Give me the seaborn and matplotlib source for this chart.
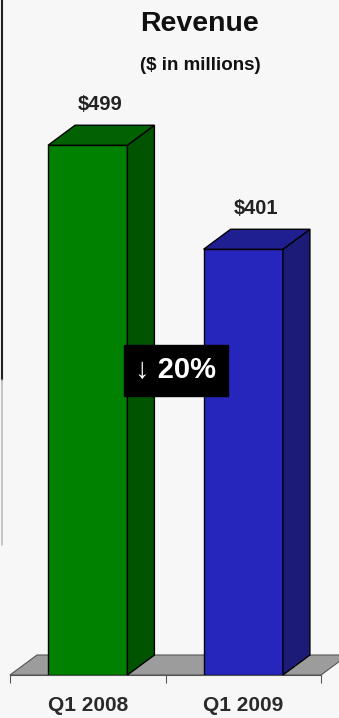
import numpy as np
import pandas as pd
import seaborn as sns
import matplotlib.pyplot as plt
from matplotlib.patches import Polygon
from matplotlib.lines import Line2D

# data
quarters = ["Q1 2008", "Q1 2009"]
revenue = [499, 401]
value_labels = ["$499", "$401"]
change_label = "\u2193 20%"

front_colors = ["#008200", "#2626bc"]
side_colors = ["#005400", "#1c1c78"]
top_colors = ["#006200", "#1f1f92"]

sns.set_style("white")
plt.rcParams['font.family'] = ['Liberation Sans', 'DejaVu Sans']

W, H = 339, 718
fig = plt.figure(figsize=(W / 100, H / 100), dpi=100, facecolor="#f7f7f7")
ax = fig.add_axes([10 / W, 43 / H, 311 / W, 637 / H])
ax.set_facecolor("none")

df = pd.DataFrame({"quarter": quarters, "revenue": revenue})
sns.barplot(data=df, x="quarter", y="revenue", hue="quarter", palette=front_colors,
            legend=False, width=0.51, edgecolor="black", linewidth=1, saturation=1,
            ax=ax, zorder=3)

ax.set_xlim(-0.5, 1.5)
ax.set_ylim(0, 600)

# depth of the 3d look, in pixels -> data units
ppx = (311 / 2)
ppy = 637 / 600
dx = 27 / ppx
dy = 20 / ppy
hw = 0.51 / 2

# floor
floor = Polygon([(-0.5, 0), (1.5, 0), (1.5 + dx, dy), (-0.5 + dx, dy)], closed=True,
                facecolor="#9c9c9c", edgecolor="#555555", linewidth=0.8, clip_on=False, zorder=1)
ax.add_patch(floor)

for i, v in enumerate(revenue):
    side = Polygon([(i + hw, 0), (i + hw + dx, dy), (i + hw + dx, v + dy), (i + hw, v)],
                   closed=True, facecolor=side_colors[i], edgecolor="black", linewidth=1,
                   clip_on=False, zorder=4)
    top = Polygon([(i - hw, v), (i + hw, v), (i + hw + dx, v + dy), (i - hw + dx, v + dy)],
                  closed=True, facecolor=top_colors[i], edgecolor="black", linewidth=1,
                  clip_on=False, zorder=4)
    ax.add_patch(side)
    ax.add_patch(top)
    ax.text(i + 0.08, v + 38, value_labels[i], ha="center", va="center",
            fontsize=14.5, fontweight="bold", color="#222222")

# change box
ax.text(0.566, 287, change_label, ha="center", va="center", fontsize=21, fontweight="bold",
        color="white", zorder=6,
        bbox=dict(boxstyle="square,pad=0.4", facecolor="black", edgecolor="black"))

# axes styling
sns.despine(ax=ax, left=True, top=True, right=True)
ax.spines["bottom"].set_color("#555555")
ax.spines["bottom"].set_linewidth(0.8)
ax.set_yticks([])
ax.set_xlabel("")
ax.set_ylabel("")
ax.set_xticks([0, 1])
ax.set_xticklabels(quarters, fontsize=15, fontweight="bold", color="#2a2a2a")
ax.tick_params(axis="x", which="major", length=0, pad=15)
ax.set_xticks([-0.5, 0.5, 1.5], minor=True)
ax.tick_params(axis="x", which="minor", bottom=True, length=6, width=0.8, color="#555555")

# titles
fig.text(200 / W, 1 - 24 / H, "Revenue", ha="center", va="center", fontsize=20.5,
         fontweight="bold", color="#111111")
fig.text(200 / W, 1 - 66 / H, "($ in millions)", ha="center", va="center", fontsize=13.5,
         fontweight="bold", color="#111111")

# left edge line
fig.add_artist(Line2D([1.5 / W, 1.5 / W], [1, 1 - 380 / H], color="#222222", lw=1.5))
fig.add_artist(Line2D([1.5 / W, 1.5 / W], [1 - 380 / H, 1 - 545 / H], color="#bbbbbb", lw=1.2))

fig.savefig("out.png", dpi=100, facecolor=fig.get_facecolor())
